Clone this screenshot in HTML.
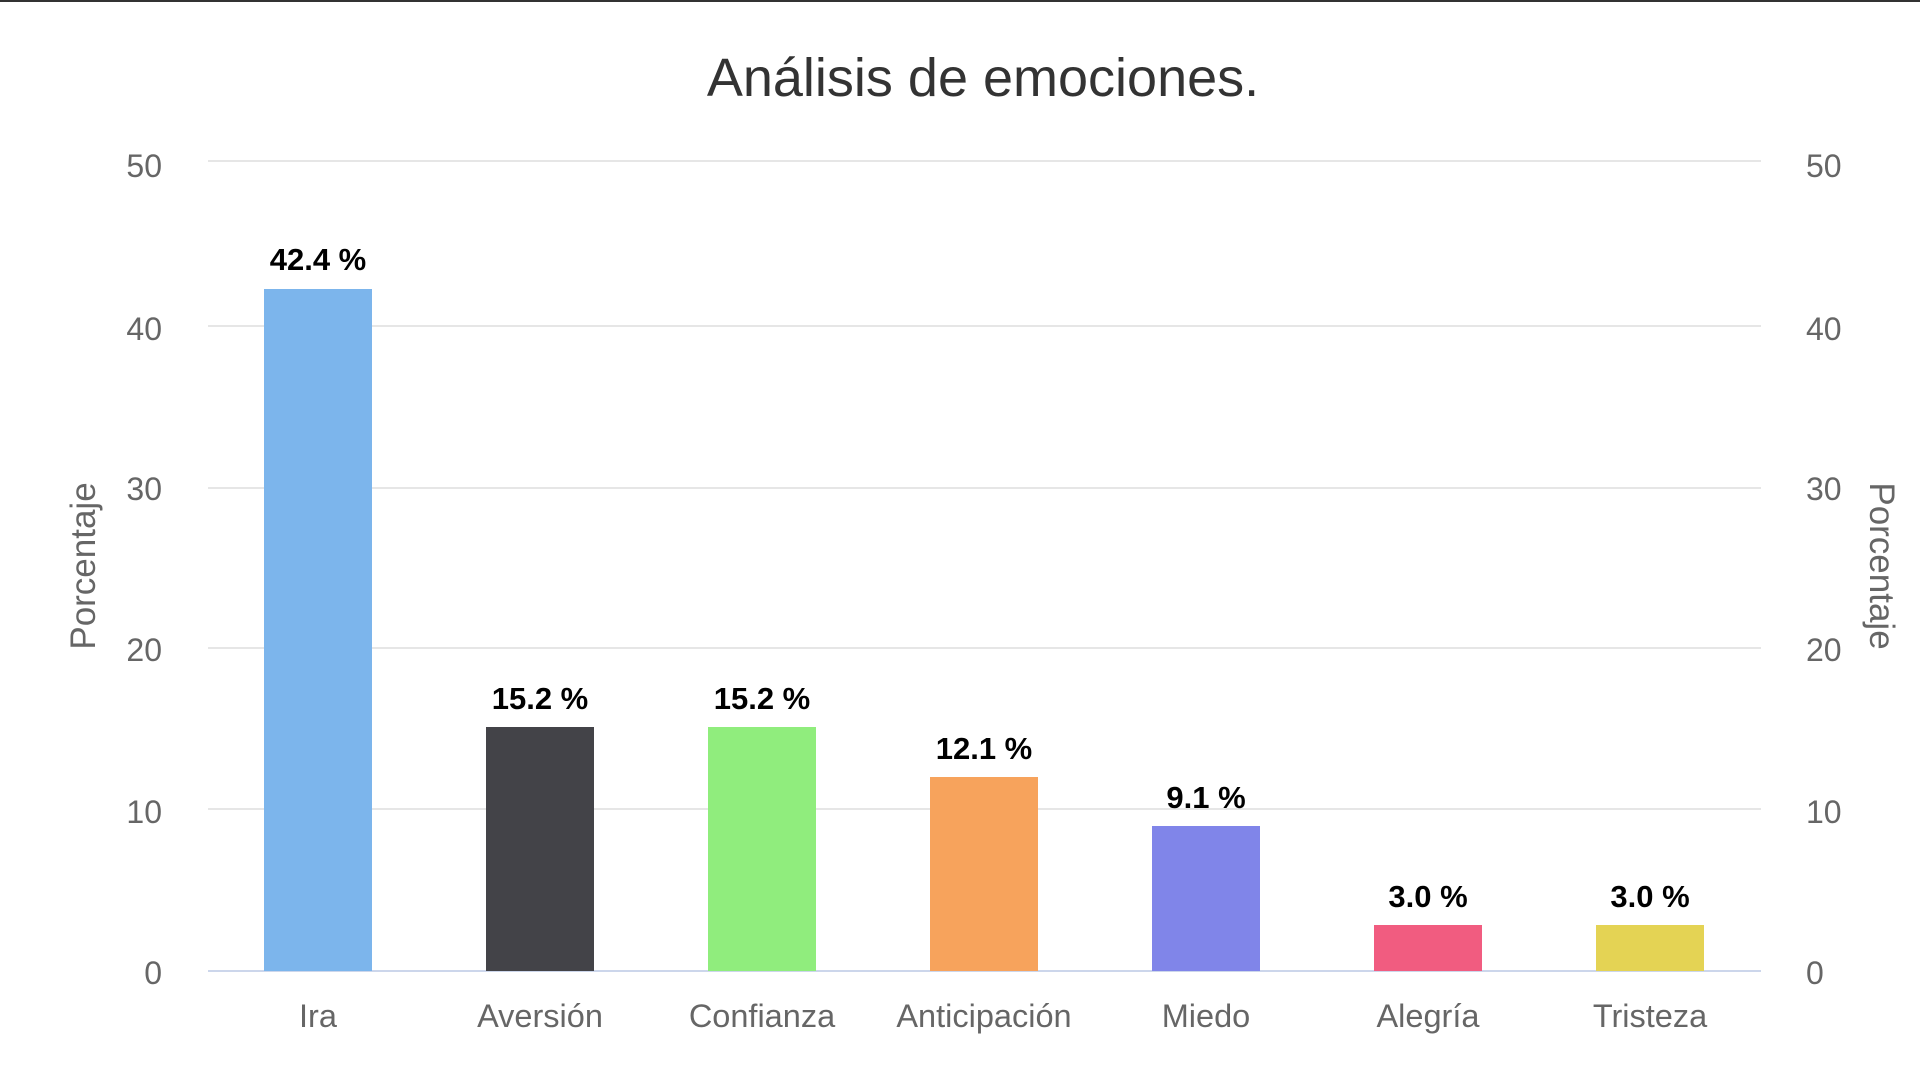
<!DOCTYPE html>
<html><head><meta charset="utf-8"><style>
html,body{margin:0;padding:0;background:#fff;}
svg{display:block;font-family:"Liberation Sans",Arial,sans-serif;}
</style></head><body>
<svg width="1920" height="1080" viewBox="0 0 1920 1080">
<rect width="1920" height="1080" fill="#fff"/>
<rect x="0" y="0" width="1920" height="2" fill="#333"/>
<text x="983" y="96" text-anchor="middle" font-size="54" fill="#333">Análisis de emociones.</text>
<g stroke="#e6e6e6" stroke-width="2">
<line x1="208" y1="161" x2="1761" y2="161"/>
<line x1="208" y1="326" x2="1761" y2="326"/>
<line x1="208" y1="488" x2="1761" y2="488"/>
<line x1="208" y1="648" x2="1761" y2="648"/>
<line x1="208" y1="809" x2="1761" y2="809"/>
</g>
<line x1="208" y1="971" x2="1761" y2="971" stroke="#ccd6eb" stroke-width="2"/>
<g font-size="32" fill="#666" text-anchor="end">
<text x="162" y="177">50</text><text x="162" y="340">40</text><text x="162" y="500">30</text><text x="162" y="661">20</text><text x="162" y="823">10</text><text x="162" y="984">0</text>
</g>
<g font-size="32" fill="#666" text-anchor="start">
<text x="1806" y="177">50</text><text x="1806" y="340">40</text><text x="1806" y="500">30</text><text x="1806" y="661">20</text><text x="1806" y="823">10</text><text x="1806" y="984">0</text>
</g>
<text transform="translate(95,566) rotate(-90)" text-anchor="middle" font-size="35" fill="#666">Porcentaje</text>
<text transform="translate(1870,566) rotate(90)" text-anchor="middle" font-size="35" fill="#666">Porcentaje</text>
<g>
<rect x="264" y="289" width="108" height="682" fill="#7cb5ec"/>
<rect x="486" y="727" width="108" height="244" fill="#434348"/>
<rect x="708" y="727" width="108" height="244" fill="#90ed7d"/>
<rect x="930" y="777" width="108" height="194" fill="#f7a35c"/>
<rect x="1152" y="826" width="108" height="145" fill="#8085e9"/>
<rect x="1374" y="925" width="108" height="46" fill="#f15c80"/>
<rect x="1596" y="925" width="108" height="46" fill="#e4d354"/>
</g>
<g font-size="31" font-weight="bold" fill="#000" text-anchor="middle">
<text x="318" y="270">42.4 %</text>
<text x="540" y="709">15.2 %</text>
<text x="762" y="709">15.2 %</text>
<text x="984" y="759">12.1 %</text>
<text x="1206" y="808">9.1 %</text>
<text x="1428" y="907">3.0 %</text>
<text x="1650" y="907">3.0 %</text>
</g>
<g font-size="32.5" fill="#666" text-anchor="middle">
<text x="318" y="1027">Ira</text>
<text x="540" y="1027">Aversión</text>
<text x="762" y="1027">Confianza</text>
<text x="984" y="1027">Anticipación</text>
<text x="1206" y="1027">Miedo</text>
<text x="1428" y="1027">Alegría</text>
<text x="1650" y="1027">Tristeza</text>
</g>
</svg>
</body></html>
